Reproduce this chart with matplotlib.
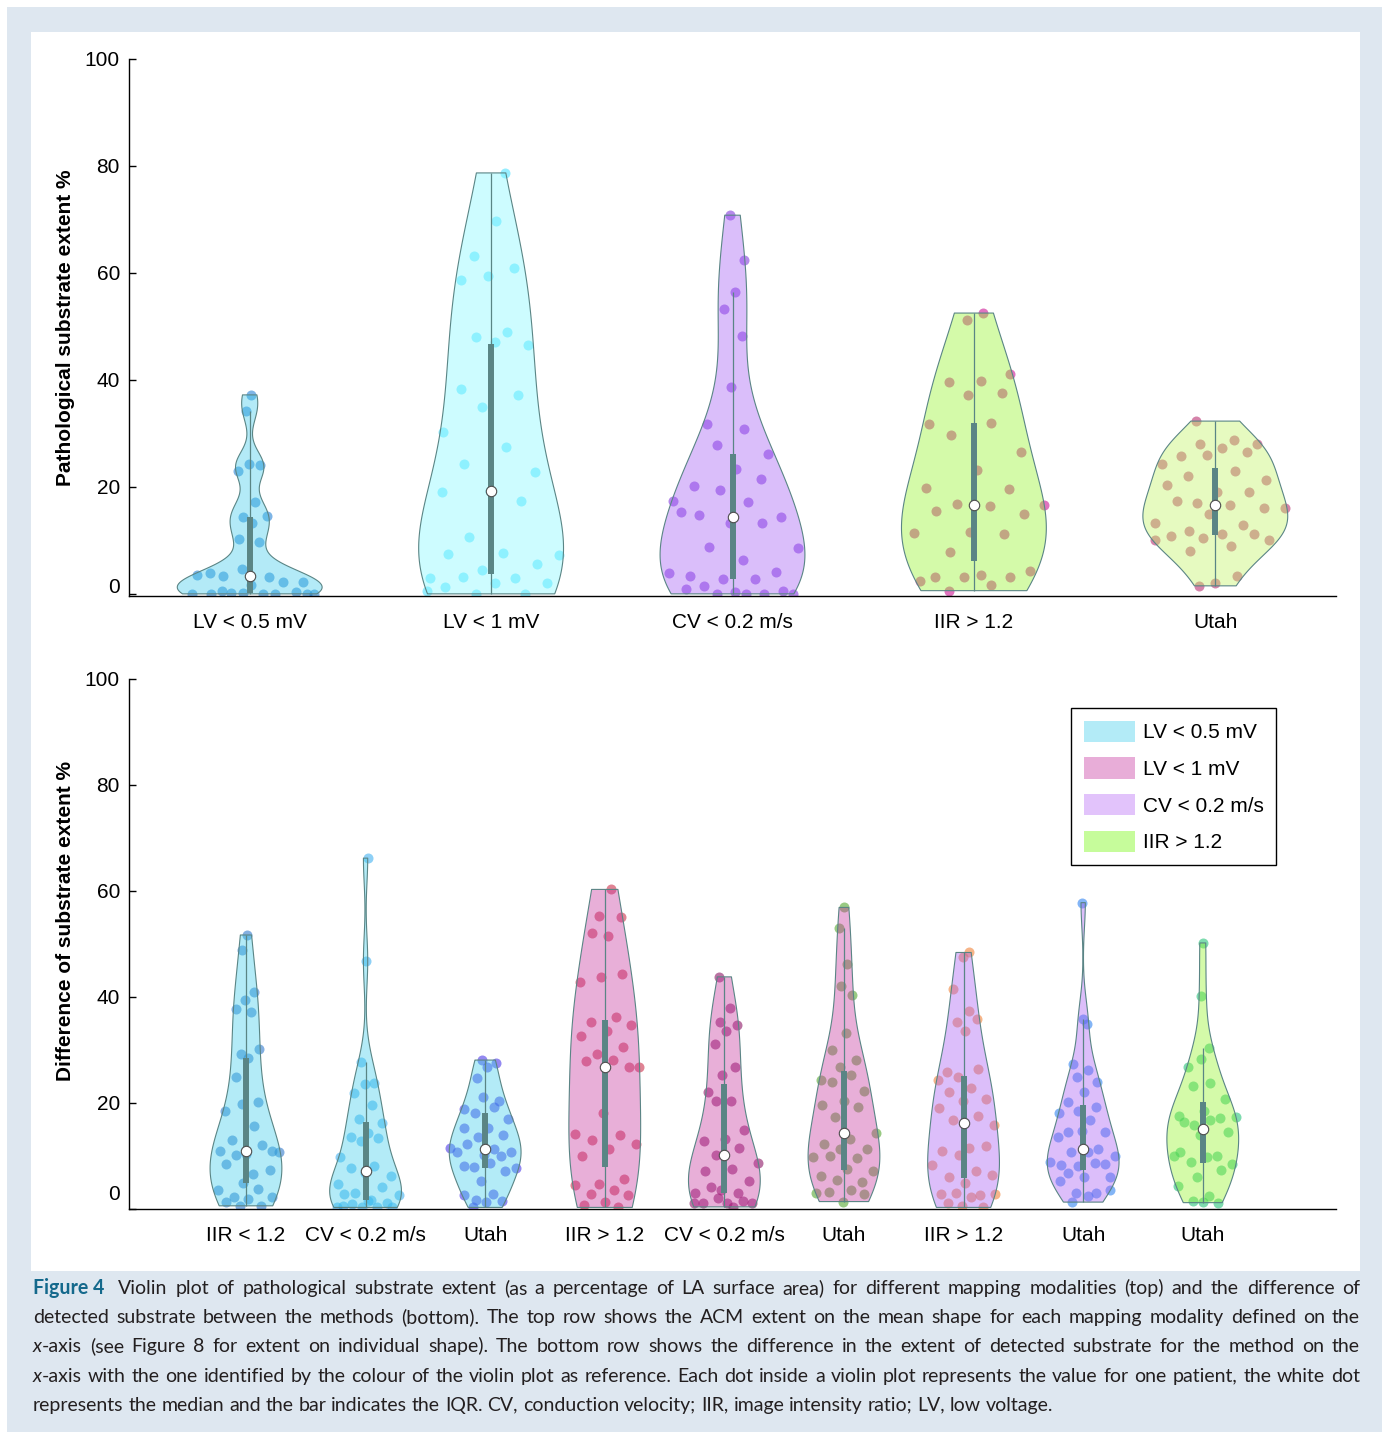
import numpy as np
import matplotlib
matplotlib.use("Agg")
import matplotlib.pyplot as plt
from matplotlib import font_manager
from matplotlib.patches import Rectangle, Patch
from matplotlib.colors import to_rgb

# ---- datos ----
top_labels = ["LV < 0.5 mV", "LV < 1 mV", "CV < 0.2 m/s", "IIR > 1.2", "Utah"]
top_lv05 = [37.2, 34.1, 24.1, 24.3, 23.0, 17.2, 14.4, 14.5, 13.3, 10.2, 9.7, 4.6, 3.6, 3.1, 3.4,
            2.3, 1.7, 3.9, 2.2, 0.1, 0.0, 0.0, 0.0, 0.3, 0.1, 0.0, 0.0, 0.6, 0.0]
top_lv1 = [78.7, 69.7, 63.2, 61.0, 59.5, 58.7, 49.0, 48.0, 46.5, 47.0, 38.3, 37.1, 34.9, 30.3, 27.5,
           24.3, 22.8, 19.3, 19.1, 17.4, 10.7, 7.2, 7.7, 7.5, 5.6, 4.4, 2.9, 2.9, 3.1, 2.1, 2.0, 1.2,
           0.0, 0.0, 0.5]
top_cv = [70.8, 62.5, 56.5, 53.3, 48.2, 38.7, 31.8, 30.9, 27.8, 26.1, 23.4, 20.1, 21.4, 19.4, 17.3,
          17.1, 14.7, 14.4, 13.3, 15.3, 13.3, 8.7, 8.5, 6.3, 3.4, 4.1, 2.8, 3.9, 2.8, 1.4, 0.6, 0.4, 0.9,
          0.0, 0.0, 0.0, 0.0]
top_iir = [52.5, 51.2, 41.1, 39.8, 39.6, 37.6, 37.2, 31.8, 32.0, 29.7, 26.5, 23.2, 19.8, 19.6, 16.8,
           16.6, 16.4, 15.5, 15.0, 11.6, 11.4, 11.2, 7.9, 4.3, 3.6, 3.2, 3.2, 3.2, 2.4, 1.7, 0.6]
top_utah = [32.3, 28.7, 28.0, 28.0, 27.3, 25.7, 26.6, 26.0, 24.2, 23.0, 22.1, 21.3, 19.1, 20.3, 19.1,
            17.0, 16.1, 16.6, 17.4, 16.1, 15.0, 13.2, 12.8, 11.8, 10.0, 11.2, 10.9, 11.2, 10.5, 10.1,
            9.0, 8.1, 3.4, 2.1, 1.5]

bottom_labels = ["IIR < 1.2", "CV < 0.2 m/s", "Utah", "IIR > 1.2", "CV < 0.2 m/s", "Utah",
                 "IIR > 1.2", "Utah", "Utah"]
d_iir_lv05 = [51.7, 48.9, 41.0, 39.4, 37.7, 37.1, 29.2, 30.1, 28.4, 25.0, 20.1, 19.8, 18.5, 15.7, 13.0,
              11.0, 10.4, 11.0, 12.1, 10.2, 10.8, 6.6, 8.5, 7.4, 4.9, 3.5, 3.8, 2.3, 2.3, 1.9, 1.4, 0.6, 0.6]
d_cv_lv05 = [66.2, 46.8, 27.7, 23.7, 23.6, 21.9, 19.6, 17.0, 16.3, 14.3, 13.6, 13.4, 12.8, 9.8, 8.2,
             7.7, 6.3, 6.7, 4.7, 4.1, 3.0, 2.6, 1.7, 2.8, 1.1, 0.4, 0.3, 0.4, 0.9, 0.4, 1.5, 0.6]
d_utah_lv05 = [28.1, 27.6, 26.7, 24.8, 20.3, 21.2, 18.8, 19.2, 18.1, 16.9, 15.2, 15.3, 14.0, 13.6, 11.6,
               11.4, 12.3, 10.8, 10.1, 10.8, 10.0, 8.0, 7.8, 8.6, 8.1, 7.2, 5.2, 2.6, 2.8, 1.7, 1.6, 1.4, 0.3]
d_iir_lv1 = [60.3, 55.3, 55.0, 51.6, 52.0, 44.3, 43.7, 42.8, 36.2, 35.2, 34.7, 33.6, 32.6, 30.5, 29.2,
             26.8, 28.1, 28.0, 26.8, 18.2, 14.2, 13.9, 13.0, 12.2, 11.3, 10.0, 5.7, 4.7, 4.5, 3.6, 2.8,
             2.6, 1.4, 0.8, 0.3]
d_cv_lv1 = [43.8, 38.0, 35.3, 34.8, 33.5, 31.1, 26.8, 25.3, 22.0, 20.4, 20.4, 15.0, 13.2, 12.8, 11.6,
            10.2, 8.6, 7.6, 7.2, 5.3, 3.5, 3.0, 3.1, 4.1, 1.2, 1.1, 1.2, 1.5, 2.0, 1.2, 0.4]
d_utah_lv1 = [56.9, 53.0, 46.2, 42.1, 40.4, 33.2, 30.0, 28.2, 26.8, 24.3, 25.2, 24.0, 22.3, 20.3, 19.6,
              19.2, 17.3, 14.3, 13.2, 12.3, 11.4, 11.4, 9.8, 9.6, 10.0, 7.2, 7.5, 6.2, 5.1, 5.4, 3.1,
              3.6, 3.3, 2.8, 1.4]
d_iir_cv = [48.4, 47.6, 41.5, 37.4, 35.3, 35.8, 33.6, 25.8, 26.4, 24.9, 24.3, 22.8, 22.0, 20.7, 20.3,
            19.0, 17.5, 16.8, 15.8, 11.6, 10.9, 11.9, 10.1, 8.3, 7.1, 6.1, 6.4, 5.0, 2.8, 2.6, 3.0, 2.8,
            2.2, 1.2, 0.3, 0.6]
d_utah_cv = [57.8, 35.0, 35.8, 27.4, 26.2, 25.0, 23.9, 22.0, 20.1, 19.2, 18.5, 18.2, 16.8, 14.6, 14.6,
             14.8, 13.5, 11.3, 10.8, 10.0, 10.7, 8.3, 8.5, 8.2, 8.9, 8.7, 6.7, 6.1, 6.1, 5.3, 3.0, 3.1,
             3.6, 2.5, 1.3]
d_utah_iir = [50.2, 40.1, 30.4, 28.3, 26.7, 23.7, 23.2, 20.8, 18.5, 17.5, 17.2, 15.8, 17.3, 16.8, 16.5,
              14.5, 13.9, 10.0, 10.0, 8.9, 8.5, 9.9, 10.7, 7.4, 6.1, 4.4, 2.5, 1.6, 1.2, 1.4]

legend_labels = ["LV < 0.5 mV", "LV < 1 mV", "CV < 0.2 m/s", "IIR > 1.2"]
legend_colors = ["#b3ebf7", "#e8add8", "#e2c3fb", "#c6fc9b"]

top_data = [top_lv05, top_lv1, top_cv, top_iir, top_utah]
top_fill = ["#b3eaf7", "#cdfcff", "#dabefa", "#d4faaa", "#e6fac0"]
top_dots = ["#1478d2", "#41e1ff", "#7828dc", "#c8008c", "#b41e64"]

bottom_data = [d_iir_lv05, d_cv_lv05, d_utah_lv05, d_iir_lv1, d_cv_lv1, d_utah_lv1,
               d_iir_cv, d_utah_cv, d_utah_iir]
bottom_fill = ["#b3ebf7", "#b3ebf7", "#b3ebf7", "#e8afd8", "#e8afd8", "#e8afd8",
               "#dcbefa", "#dcbefa", "#d4faaa"]
bottom_dots = ["#1e6ec8", "#32aaf0", "#3c28e6", "#c81e3c", "#820058", "#46a01e",
               "#f07828", "#1e78f0", "#14be6e"]

caption_lines = [
    [[("Figure 4", "head")], "Violin plot of pathological substrate extent (as a percentage of LA surface area) "
     "for different mapping modalities (top) and the difference of"],
    "detected substrate between the methods (bottom). The top row shows the ACM extent on the mean shape "
    "for each mapping modality defined on the",
    [[("x", "ital"), ("-axis", "norm")], "(see Figure 8 for extent on individual shape). The bottom row shows "
     "the difference in the extent of detected substrate for the method on the"],
    [[("x", "ital"), ("-axis", "norm")], "with the one identified by the colour of the violin plot as reference. "
     "Each dot inside a violin plot represents the value for one patient, the white dot"],
    "represents the median and the bar indicates the IQR. CV, conduction velocity; IIR, image intensity ratio; "
    "LV, low voltage.",
]

W, H = 1389, 1438
EDGE = "#5a8585"
FILL_ALPHA = 0.4
DOT_ALPHA = 0.55

plt.rcParams["font.family"] = ["Liberation Sans", "DejaVu Sans"]


def kde_profile(vals, npts=250):
    # ancho de banda por defecto de ksdensity (MAD)
    v = np.asarray(vals, float)
    sig = np.median(np.abs(v - np.median(v))) / 0.6745
    h = sig * (4.0 / (3.0 * len(v))) ** 0.2
    grid = np.linspace(v.min(), v.max(), npts)
    dens = np.exp(-0.5 * ((grid[:, None] - v[None, :]) / h) ** 2).sum(axis=1)
    return grid, dens / dens.max()


def under_fill(hexc):
    # color de relleno que con alpha da el tono del original
    rgb = np.array(to_rgb(hexc))
    return tuple(np.clip((rgb - (1 - FILL_ALPHA)) / FILL_ALPHA, 0, 1))


def draw_violins(ax, datasets, fills, dots):
    for k, vals in enumerate(datasets):
        pos = k + 1
        v = np.asarray(vals, float)
        grid, dens = kde_profile(v)
        half = 0.3 * dens
        w_pts = 0.3 * np.interp(v, grid, dens)
        u = ((np.arange(len(v)) + 1) * 0.6180339887 + 0.37 * k) % 1.0 * 2 - 1
        ax.scatter(pos + u * w_pts, v, s=52, color=dots[k], alpha=DOT_ALPHA, lw=0, zorder=1)
        ax.fill_betweenx(grid, pos - half, pos + half, facecolor=under_fill(fills[k]),
                         alpha=FILL_ALPHA, edgecolor="none", zorder=2)
        ax.fill_betweenx(grid, pos - half, pos + half, facecolor="none", edgecolor=EDGE,
                         lw=0.8, zorder=3)
        q1, med, q3 = np.percentile(v, [25, 50, 75])
        iqr = q3 - q1
        hi = v[v <= q3 + 1.5 * iqr].max()
        lo = v[v >= q1 - 1.5 * iqr].min()
        ax.vlines(pos, lo, hi, color=EDGE, lw=0.9, zorder=4)
        ax.vlines(pos, q1, q3, color=EDGE, lw=4.3, zorder=5)
        ax.plot(pos, med, "o", ms=7.5, mfc="white", mec="#4d4d4d", mew=0.8, zorder=6)


def style_axes(ax, labels, ylabel, zero_shift):
    for s in ["top", "right"]:
        ax.spines[s].set_visible(False)
    ax.spines["left"].set_linewidth(1.0)
    ax.spines["bottom"].set_linewidth(1.0)
    ax.set_xticks(range(1, len(labels) + 1))
    ax.set_xticklabels(labels)
    ax.set_yticks([0, 20, 40, 60, 80, 100])
    ax.set_yticklabels(["", "20", "40", "60", "80", "100"])
    ax.tick_params(axis="y", direction="in", length=5, width=1, labelsize=15, pad=6.5)
    ax.tick_params(axis="x", length=0, labelsize=15, pad=12)
    ax.annotate("0", xy=(0, 0), xycoords=("axes fraction", "data"), xytext=(-9, zero_shift),
                textcoords="offset pixels", ha="right", va="center", fontsize=15)
    ax.set_ylabel(ylabel, fontsize=15, fontweight="bold")


fig = plt.figure(figsize=(W / 100, H / 100), dpi=100)
fig.patches.append(Rectangle((7 / W, 1 - 1432 / H), 1375 / W, 1425 / H, transform=fig.transFigure,
                             facecolor="#dee7f0", edgecolor="none", zorder=-2))
fig.patches.append(Rectangle((31 / W, 1 - 1271 / H), 1329 / W, 1239 / H, transform=fig.transFigure,
                             facecolor="white", edgecolor="none", zorder=-1))

ax1 = fig.add_axes([129 / W, 1 - 596 / H, 1207 / W, 537 / H])
ax1.patch.set_alpha(0)
draw_violins(ax1, top_data, top_fill, top_dots)
ax1.set_xlim(0.5, 5.5)
ax1.set_ylim(-0.4, 100)
style_axes(ax1, top_labels, "Pathological substrate extent %", 6)
ax1.yaxis.set_label_coords(-0.045, 0.5)

ax2 = fig.add_axes([129 / W, 1 - 1209 / H, 1207 / W, 530 / H])
ax2.patch.set_alpha(0)
draw_violins(ax2, bottom_data, bottom_fill, bottom_dots)
ax2.set_xlim(0.022, 10.114)
ax2.set_ylim(0, 100)
style_axes(ax2, bottom_labels, "Difference of substrate extent %", 15)
ax2.yaxis.set_label_coords(-0.045, 0.544)

handles = [Patch(facecolor=c, edgecolor="none") for c in legend_colors]
leg = ax2.legend(handles, legend_labels, loc="upper left", bbox_to_anchor=(1071 / W, 1 - 708 / H),
                 bbox_transform=fig.transFigure, fontsize=15, frameon=True, fancybox=False,
                 framealpha=1, edgecolor="black", handlelength=2.45, handleheight=1.2,
                 labelspacing=0.72, borderpad=0.6, handletextpad=0.4, borderaxespad=0)
leg.get_frame().set_linewidth(1.0)

# ---- leyenda de la figura (texto justificado) ----
names = {f.name for f in font_manager.fontManager.ttflist}
cap_font = "Open Sans"
for cand in ["Lato", "Liberation Sans Narrow"]:
    if cand in names:
        cap_font = cand
        break
styles = {
    "head": dict(family=cap_font, fontweight="bold", color="#14698c"),
    "norm": dict(family=cap_font, color="#231f20"),
    "ital": dict(family=cap_font, style="italic", color="#231f20"),
}
renderer = fig.canvas.get_renderer()


def measure(s, st, size):
    t = fig.text(0, 0, s, fontsize=size, **styles[st])
    w = t.get_window_extent(renderer).width
    t.remove()
    return w


def tokens(line):
    if isinstance(line, str):
        return [[(w, "norm")] for w in line.split()]
    return [line[0]] + [[(w, "norm")] for w in line[1].split()]


x0, x1 = 33, 1360
lines = [tokens(l) for l in caption_lines]
nat = [sum(measure(s, st, 10) for tok in ln for s, st in tok) for ln in lines[:-1]]
space10 = measure("a a", "norm", 10) - measure("aa", "norm", 10)
size = min(10 * (x1 - x0 - 6) / (n + space10 * (len(ln) - 1))
           for n, ln in zip(nat, lines[:-1])) * 0.99
size = min(size, 15.5)
space = space10 * size / 10
for i, ln in enumerate(lines):
    widths = [[measure(s, st, size) for s, st in tok] for tok in ln]
    extra = 6 if i == 0 else 0
    total = sum(sum(w) for w in widths) + extra
    gap = (x1 - x0 - total) / (len(ln) - 1) if i < len(lines) - 1 else space
    x = x0
    yb = 1294 + i * 29.2
    for j, tok in enumerate(ln):
        for (s, st), w in zip(tok, widths[j]):
            fig.text(x / W, 1 - yb / H, s, fontsize=size, va="baseline", ha="left", **styles[st])
            x += w
        if i == 0 and j == 0:
            x += extra
        x += gap

fig.savefig("out.png", dpi=100)
